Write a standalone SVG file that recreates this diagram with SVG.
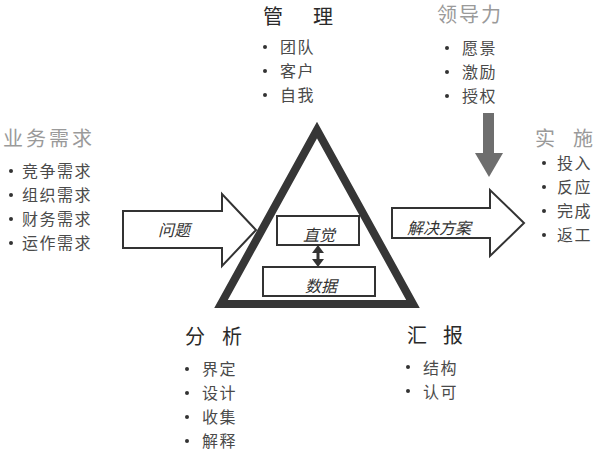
<svg xmlns="http://www.w3.org/2000/svg" width="600" height="455" viewBox="0 0 600 455">
<style>
text{font-family:"Noto Sans CJK SC","Noto Sans",sans-serif}
.t{font-size:20px;fill:#2a2a2a;letter-spacing:2px}
.g{font-size:20px;fill:#9a9a9a;letter-spacing:2px}
.li{font-size:16px;fill:#4a4a4a;letter-spacing:1.5px}
.lab{font-size:16px;fill:#333;font-style:italic}
.b{fill:#333}
.box{fill:#fff;stroke:#333;stroke-width:2}
.arr{fill:#fff;stroke:#333;stroke-width:2;stroke-linejoin:miter}
</style>
<rect width="600" height="455" fill="#fff"/>
<g id="triangle">
<polygon points="317,130 221,304 413,304" fill="#fff" stroke="#363636" stroke-width="8" stroke-linejoin="miter"/>
</g>
<g id="connectors">
<polygon class="arr" points="123,211 222,211 222,194 256,230 222,266 222,248 123,248"/>
<polygon class="arr" points="392,208 490,208 490,190 524,223 490,256 490,238 392,238"/>
<g fill="#6e6e6e"><rect x="483" y="113" width="11" height="41"/><polygon points="475,153 503,153 489,177"/></g>
<g fill="#333"><rect x="316.5" y="251" width="3" height="10"/><polygon points="312,253 324,253 318,245"/><polygon points="312,259 324,259 318,267"/></g>
</g>
<g id="problem"><text class="lab" x="158" y="236">问题</text></g>
<g id="solution"><text class="lab" x="407" y="234">解决方案</text></g>
<g id="intuition"><rect class="box" x="277" y="216" width="82" height="29"/><text class="lab" x="303" y="241">直觉</text></g>
<g id="data"><rect class="box" x="263" y="267" width="112" height="29"/><text class="lab" x="305" y="292">数据</text></g>
<g id="management">
<text class="t" x="263" y="24" style="letter-spacing:5px">管　理</text>
<circle class="b" cx="265" cy="47" r="2"/><text class="li" x="280" y="53">团队</text>
<circle class="b" cx="265" cy="71" r="2"/><text class="li" x="280" y="77">客户</text>
<circle class="b" cx="265" cy="95" r="2"/><text class="li" x="280" y="101">自我</text>
</g>
<g id="leadership">
<text class="g" x="437" y="22">领导力</text>
<circle class="b" cx="447" cy="48" r="2"/><text class="li" x="462" y="54">愿景</text>
<circle class="b" cx="447" cy="72" r="2"/><text class="li" x="462" y="78">激励</text>
<circle class="b" cx="447" cy="96" r="2"/><text class="li" x="462" y="102">授权</text>
</g>
<g id="business">
<text class="g" x="3" y="146" style="letter-spacing:3px">业务需求</text>
<circle class="b" cx="11" cy="171" r="2"/><text class="li" x="22" y="177">竞争需求</text>
<circle class="b" cx="11" cy="195" r="2"/><text class="li" x="22" y="201">组织需求</text>
<circle class="b" cx="11" cy="219" r="2"/><text class="li" x="22" y="225">财务需求</text>
<circle class="b" cx="11" cy="243" r="2"/><text class="li" x="22" y="249">运作需求</text>
</g>
<g id="implementation">
<text class="g" x="535" y="146" style="letter-spacing:0px"><tspan>实</tspan><tspan x="573">施</tspan></text>
<circle class="b" cx="544" cy="163" r="2"/><text class="li" x="557" y="169">投入</text>
<circle class="b" cx="544" cy="187" r="2"/><text class="li" x="557" y="193">反应</text>
<circle class="b" cx="544" cy="211" r="2"/><text class="li" x="557" y="217">完成</text>
<circle class="b" cx="544" cy="235" r="2"/><text class="li" x="557" y="241">返工</text>
</g>
<g id="analysis">
<text class="t" x="185" y="344" style="letter-spacing:0px"><tspan>分</tspan><tspan x="222">析</tspan></text>
<circle class="b" cx="187" cy="369" r="2"/><text class="li" x="202" y="375">界定</text>
<circle class="b" cx="187" cy="393" r="2"/><text class="li" x="202" y="399">设计</text>
<circle class="b" cx="187" cy="417" r="2"/><text class="li" x="202" y="423">收集</text>
<circle class="b" cx="187" cy="441" r="2"/><text class="li" x="202" y="447">解释</text>
</g>
<g id="report">
<text class="t" x="407" y="343" style="letter-spacing:0px"><tspan>汇</tspan><tspan x="443">报</tspan></text>
<circle class="b" cx="408" cy="367" r="2"/><text class="li" x="423" y="374">结构</text>
<circle class="b" cx="408" cy="391" r="2"/><text class="li" x="423" y="398">认可</text>
</g>
</svg>
